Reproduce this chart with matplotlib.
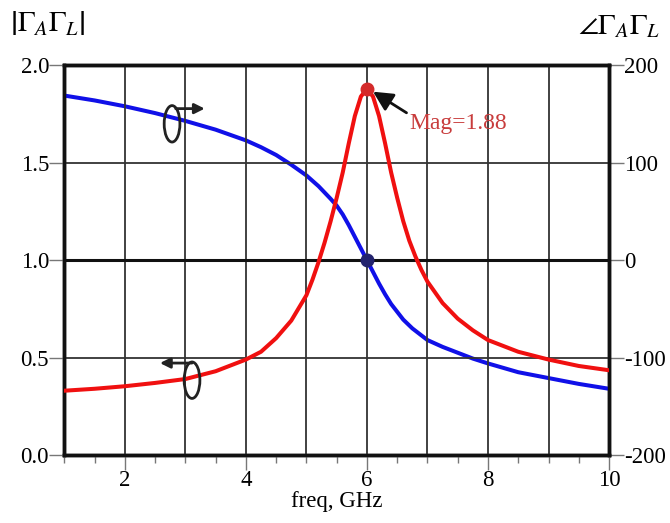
import matplotlib
matplotlib.use("Agg")
import matplotlib.pyplot as plt
from matplotlib.patches import Ellipse

plt.rcParams["font.family"] = ["Liberation Serif", "DejaVu Serif"]
plt.rcParams["mathtext.fontset"] = "stix"

# --- data ---
freq_mag = [1.0, 1.5, 2.0, 2.5, 3.0, 3.5, 4.0, 4.25, 4.5, 4.75, 5.0, 5.1, 5.2, 5.3, 5.4,
            5.5, 5.6, 5.7, 5.8, 5.9, 6.0, 6.1, 6.2, 6.3, 6.4, 6.5, 6.6, 6.7, 6.8, 6.9,
            7.0, 7.25, 7.5, 7.75, 8.0, 8.5, 9.0, 9.5, 10.0]
mag = [0.33, 0.34, 0.353, 0.37, 0.39, 0.43, 0.49, 0.53, 0.60, 0.69, 0.82, 0.90, 0.99, 1.09, 1.20,
       1.32, 1.45, 1.60, 1.74, 1.84, 1.88, 1.84, 1.74, 1.60, 1.45, 1.32, 1.20, 1.10, 1.02, 0.95,
       0.89, 0.78, 0.70, 0.64, 0.59, 0.53, 0.49, 0.457, 0.435]

freq_ph = [1.0, 1.5, 2.0, 2.5, 3.0, 3.5, 4.0, 4.25, 4.5, 4.75, 5.0, 5.2, 5.4, 5.5, 5.6, 5.7,
           5.8, 5.9, 6.0, 6.1, 6.2, 6.3, 6.4, 6.5, 6.6, 6.75, 7.0, 7.25, 7.5, 7.75, 8.0,
           8.5, 9.0, 9.5, 10.0]
phase = [169, 164, 158, 151, 143, 134, 123, 116, 108, 98, 87, 76, 63, 56, 47, 36,
         24, 12, 0, -12, -24, -35, -45, -53, -61, -70, -82, -89, -95, -101, -106,
         -115, -121, -127, -132]

peak_f, peak_mag = 6.0, 1.88
cross_f, cross_mag = 6.0, 1.0

mag_ticks = [0.0, 0.5, 1.0, 1.5, 2.0]
ph_ticks = [-200, -100, 0, 100, 200]
x_labels = [2, 4, 6, 8, 10]

fig = plt.figure(figsize=(6.7, 5.23), dpi=100)
ax = fig.add_axes([0.096, 0.130, 0.813, 0.745])
ax2 = ax.twinx()

ax.set_xlim(1, 10)
ax.set_ylim(0, 2)
ax2.set_ylim(-200, 200)

# grid
for f in range(2, 10):
    ax.axvline(f, color="#333333", lw=1.3, zorder=1)
for m in [0.5, 1.5]:
    ax.axhline(m, color="#333333", lw=1.3, zorder=1)
ax.axhline(1.0, color="#111111", lw=2.2, zorder=1)

# curves
ax.plot(freq_mag, mag, color="#f01010", lw=2.9, zorder=3)
ax2.plot(freq_ph, phase, color="#1010e8", lw=2.9, zorder=3)
ax.set_zorder(ax2.get_zorder() + 1)
ax.patch.set_visible(False)

# markers
ax.plot([peak_f], [peak_mag], "o", color="#d42a2a", ms=9, zorder=5)
ax.plot([cross_f], [cross_mag], "o", color="#23236e", ms=9, zorder=5)

# annotation
ax.annotate("Mag=%.2f" % peak_mag, xy=(6.10, 1.865), xytext=(6.7, 1.70),
            color="#c83c3c", fontsize=17, va="center", ha="left",
            arrowprops=dict(arrowstyle="-|>,head_length=0.7,head_width=0.35",
                            color="#111111", lw=2, shrinkA=0, shrinkB=0,
                            relpos=(-0.02, 1.0)))

# axis indicators (ellipse + arrow)
ax.add_patch(Ellipse((2.78, 1.70), 0.26, 0.187, fill=False, ec="#222222", lw=2, zorder=6))
ax.annotate("", xy=(3.32, 1.778), xytext=(2.84, 1.778),
            arrowprops=dict(arrowstyle="-|>,head_length=0.6,head_width=0.3",
                            color="#222222", lw=2, shrinkA=0, shrinkB=0), zorder=6)
ax.add_patch(Ellipse((3.11, 0.384), 0.26, 0.187, fill=False, ec="#222222", lw=2, zorder=6))
ax.annotate("", xy=(2.58, 0.472), xytext=(3.11, 0.472),
            arrowprops=dict(arrowstyle="-|>,head_length=0.6,head_width=0.3",
                            color="#222222", lw=2, shrinkA=0, shrinkB=0), zorder=6)

# ticks
ax.set_xticks(x_labels)
ax.set_xticks([1 + 0.5 * i for i in range(19)], minor=True)
ax.set_xticklabels([str(v) for v in x_labels])
ax.set_yticks(mag_ticks)
ax.set_yticklabels(["%.1f" % v for v in mag_ticks])
ax2.set_yticks(ph_ticks)
ax2.set_yticklabels([str(v) for v in ph_ticks])
ax.tick_params(axis="x", which="major", direction="out", length=11, width=1, color="#777777",
               labelsize=16.5, pad=0)
ax.tick_params(axis="x", which="minor", direction="out", length=6, width=1, color="#777777")
ax.tick_params(axis="y", direction="out", length=11, width=1, color="#777777", labelsize=16.5, pad=0)
ax2.tick_params(axis="y", direction="out", length=11, width=1, color="#777777", labelsize=16.5, pad=0)
ax.tick_params(axis="y", which="minor", left=False)

for a in (ax, ax2):
    for s in a.spines.values():
        s.set_linewidth(2.5)
        s.set_color("#111111")

ax.set_xlabel("freq, GHz", fontsize=16.5, labelpad=0)

fig.text(0.015, 0.955, r"$\left|\Gamma_A\Gamma_L\right|$", fontsize=21, ha="left", va="center")
fig.text(0.985, 0.950, r"$\angle\Gamma_A\Gamma_L$", fontsize=21, ha="right", va="center")

fig.savefig("out.png", dpi=100)
